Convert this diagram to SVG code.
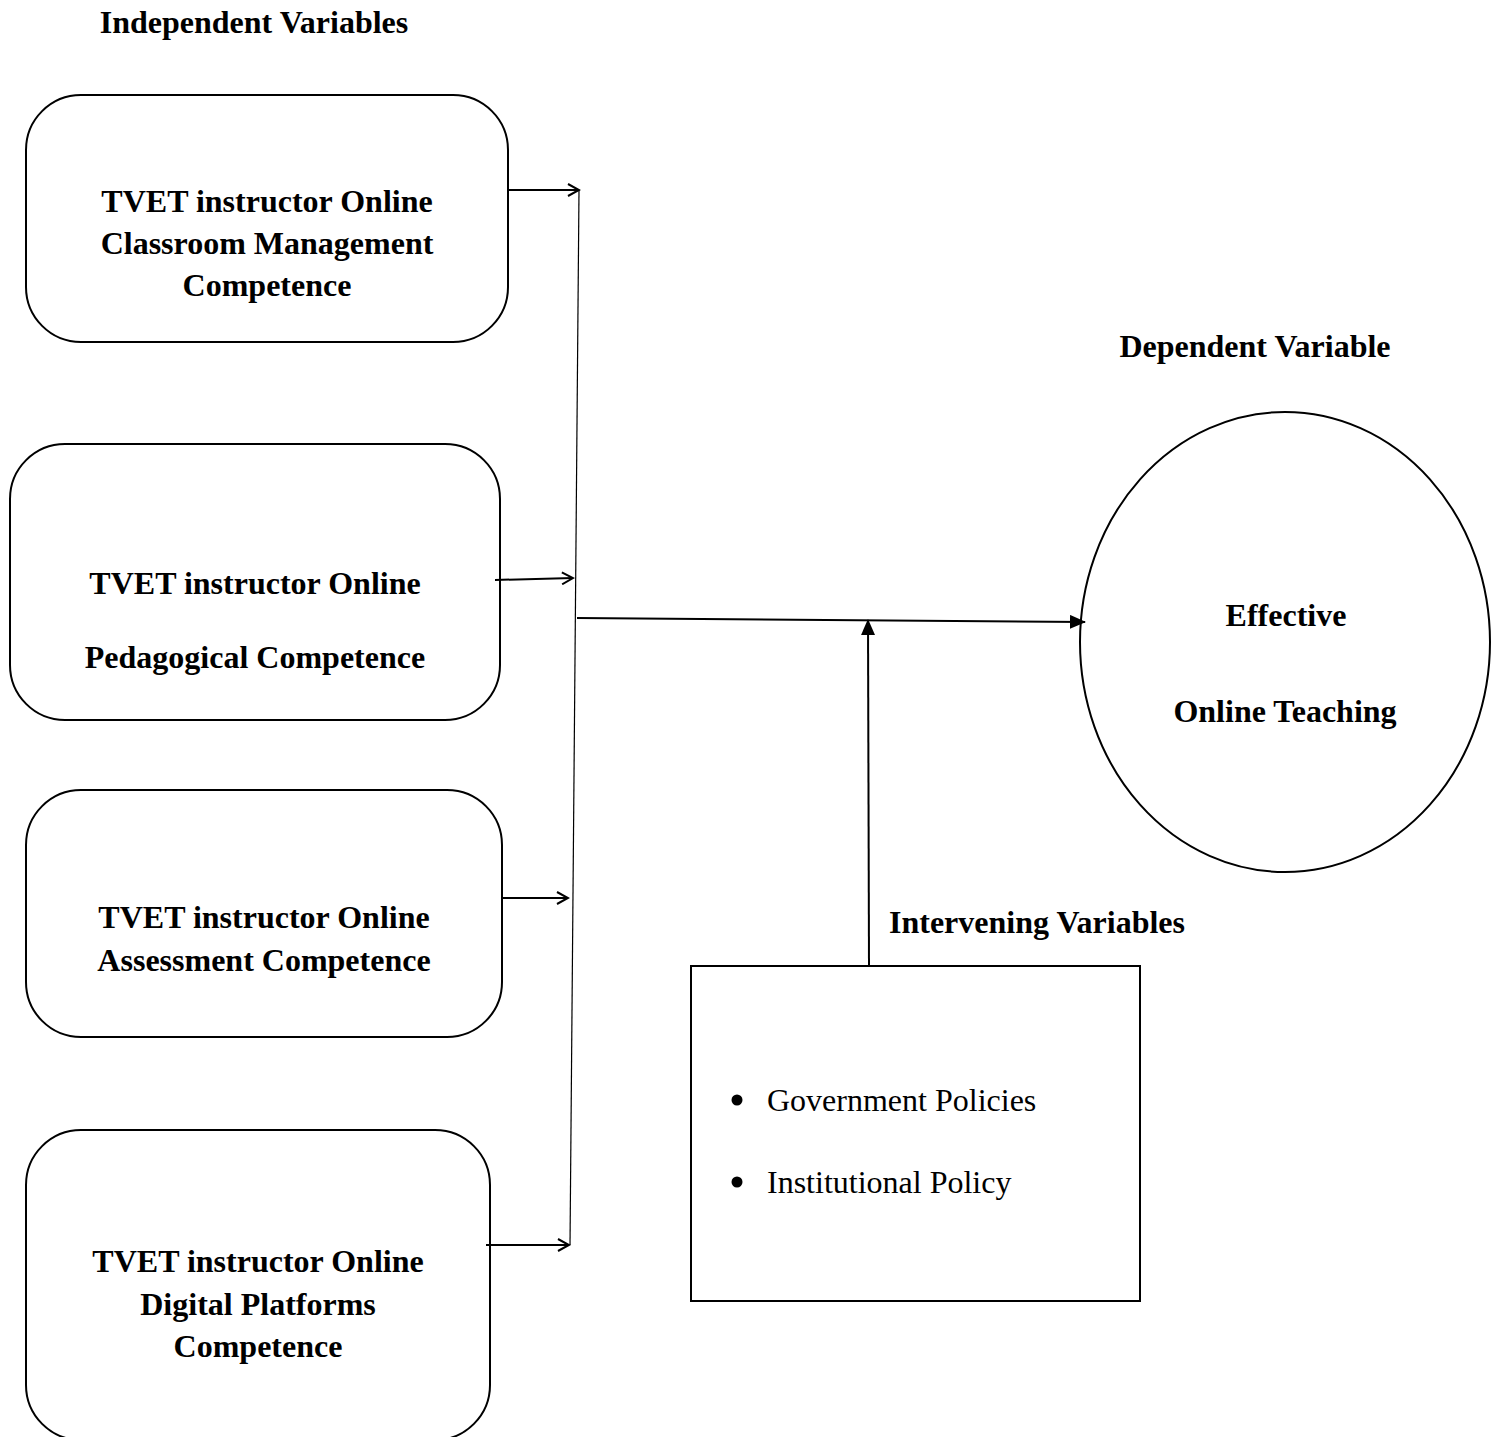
<svg xmlns="http://www.w3.org/2000/svg" width="1499" height="1437" viewBox="0 0 1499 1437">
<style>
.b{font-family:"Liberation Serif","Times New Roman",serif;font-size:32px;font-weight:bold;fill:#000;text-anchor:middle}
.n{font-family:"Liberation Serif","Times New Roman",serif;font-size:32px;fill:#000}
.shape{fill:#fff;stroke:#000;stroke-width:2}
.ln{stroke:#000;stroke-width:2;fill:none}
.thin{stroke:#000;stroke-width:1.2;fill:none}
</style>
<defs>
<marker id="open" markerWidth="14" markerHeight="14" refX="12" refY="7" orient="auto" markerUnits="userSpaceOnUse">
<path d="M1,1 L12,7 L1,13" fill="none" stroke="#000" stroke-width="2"/>
</marker>
<marker id="fill" markerWidth="16" markerHeight="14" refX="15" refY="7" orient="auto" markerUnits="userSpaceOnUse">
<path d="M0,0 L16,7 L0,14 Z" fill="#000"/>
</marker>
</defs>
<rect width="1499" height="1437" fill="#fff"/>
<text class="b" x="254" y="33">Independent Variables</text>
<text class="b" x="1255" y="357">Dependent Variable</text>
<text class="b" x="1037" y="933">Intervening Variables</text>
<g id="node-classroom">
<rect class="shape" x="26" y="95" width="482" height="247" rx="55"/>
<text class="b" x="267" y="212">TVET instructor Online</text>
<text class="b" x="267" y="254">Classroom Management</text>
<text class="b" x="267" y="296">Competence</text>
</g>
<g id="node-pedagogical">
<rect class="shape" x="10" y="444" width="490" height="276" rx="55"/>
<text class="b" x="255" y="594">TVET instructor Online</text>
<text class="b" x="255" y="668">Pedagogical Competence</text>
</g>
<g id="node-assessment">
<rect class="shape" x="26" y="790" width="476" height="247" rx="55"/>
<text class="b" x="264" y="928">TVET instructor Online</text>
<text class="b" x="264" y="971">Assessment Competence</text>
</g>
<g id="node-digital">
<rect class="shape" x="26" y="1130" width="464" height="310" rx="55"/>
<text class="b" x="258" y="1272">TVET instructor Online</text>
<text class="b" x="258" y="1315">Digital Platforms</text>
<text class="b" x="258" y="1357">Competence</text>
</g>
<g id="node-effective">
<ellipse class="shape" cx="1285" cy="642" rx="205" ry="230"/>
<text class="b" x="1286" y="626">Effective</text>
<text class="b" x="1285" y="722">Online Teaching</text>
</g>
<g id="node-intervening">
<rect class="shape" x="691" y="966" width="449" height="335"/>
<circle cx="737" cy="1100" r="5.5" fill="#000"/>
<text class="n" x="767" y="1111">Government Policies</text>
<circle cx="737" cy="1182" r="5.5" fill="#000"/>
<text class="n" x="767" y="1193">Institutional Policy</text>
</g>
<g id="connectors">
<line class="thin" x1="579" y1="190" x2="570" y2="1245"/>
<line class="ln" x1="508" y1="190" x2="579" y2="190" marker-end="url(#open)"/>
<line class="ln" x1="495" y1="580" x2="573" y2="578" marker-end="url(#open)"/>
<line class="ln" x1="502" y1="898" x2="568" y2="898" marker-end="url(#open)"/>
<line class="ln" x1="486" y1="1245" x2="569" y2="1245" marker-end="url(#open)"/>
<line class="ln" x1="577" y1="618" x2="1085" y2="622" marker-end="url(#fill)"/>
<line class="ln" x1="869" y1="965" x2="868" y2="620" marker-end="url(#fill)"/>
</g>
</svg>
